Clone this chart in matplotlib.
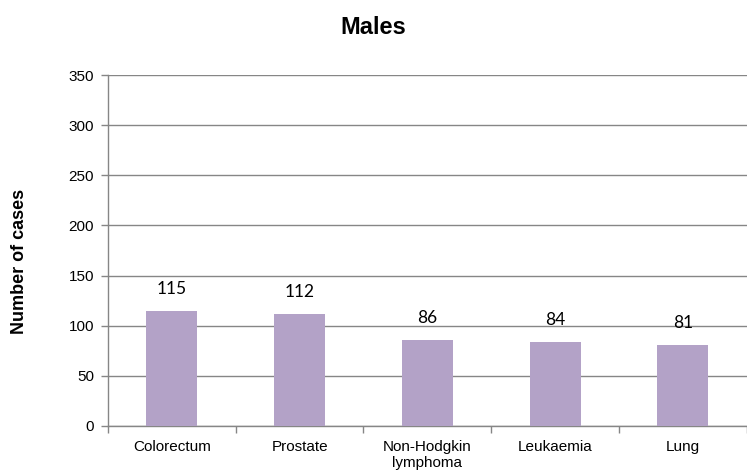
import matplotlib.pyplot as plt
import numpy as np

categories = ["Colorectum", "Prostate", "Non-Hodgkin\nlymphoma", "Leukaemia", "Lung"]
cases = [115, 112, 86, 84, 81]
y_ticks = [0, 50, 100, 150, 200, 250, 300, 350]

plt.rcParams['font.family'] = ['Liberation Sans', 'DejaVu Sans']

fig = plt.figure(figsize=(7.47, 4.72), dpi=100)
ax = fig.add_axes([0.1446, 0.0975, 0.855, 0.7435])

x = np.arange(len(categories))
ax.bar(x, cases, width=0.4, color="#B3A2C7", zorder=3)

for xi, v in zip(x, cases):
    ax.text(xi, v + 17, str(v), ha="center", va="baseline", fontsize=12.5,
            family=["Lato", "DejaVu Sans"], color="black")

ax.set_xlim(-0.5, len(categories) - 0.5)
ax.set_ylim(0, 350)
ax.set_yticks(y_ticks)
ax.yaxis.grid(True, color="#868686", linewidth=1, zorder=0)

ax.set_xticks(x)
ax.set_xticklabels(categories, fontsize=11, linespacing=1.2)
ax.tick_params(axis="x", length=0, pad=10)
ax.set_xticks(np.arange(len(categories) + 1) - 0.5, minor=True)
ax.tick_params(axis="x", which="minor", length=5, color="#868686", width=1)
ax.tick_params(axis="y", labelsize=11, length=5, color="#868686", width=1, pad=5)

for side in ["top", "right"]:
    ax.spines[side].set_visible(False)
for side in ["left", "bottom"]:
    ax.spines[side].set_color("#868686")
    ax.spines[side].set_linewidth(1)

ax.set_ylabel("Number of cases", fontsize=13, fontweight="bold")
ax.yaxis.set_label_coords(-0.126, 0.47)
fig.suptitle("Males", fontsize=17, fontweight="bold", y=0.967, va="top")

fig.savefig("out.png", dpi=100)
